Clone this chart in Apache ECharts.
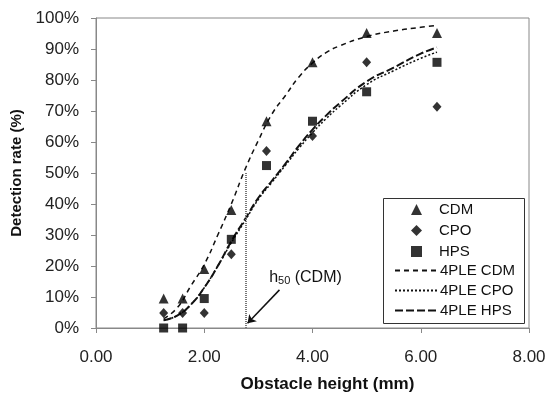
<!DOCTYPE html>
<html>
<head>
<meta charset="utf-8">
<script src="https://cdn.jsdelivr.net/npm/echarts@6/dist/echarts.min.js"></script>
<style>
  html, body { margin: 0; padding: 0; background: #fff; }
  #chart { width: 548px; height: 398px; }
</style>
</head>
<body>
<div id="chart"></div>
<script>
// obstacle heights (mm) and detection rates (%)
const heights = [1.25, 1.6, 2.0, 2.5, 3.15, 4.0, 5.0, 6.3];
const cdm = [9.5, 9.5, 19.0, 38.1, 66.7, 85.7, 95.2, 95.2];
const cpo = [4.8, 4.8, 4.8, 23.8, 57.1, 61.9, 85.7, 71.4];
const hps = [0, 0, 9.5, 28.6, 52.4, 66.7, 76.2, 85.7];

// 4PLE fitted curves
const fitX = [1.25, 1.5, 1.75, 2.0, 2.25, 2.5, 2.75, 3.0, 3.25, 3.5, 3.75, 4.0, 4.25, 4.5, 5.0, 5.5, 6.0, 6.3];
const fitCdm = [3, 6.5, 13.5, 20.5, 30, 40, 51, 60.5, 69, 75, 81, 85.5, 88.8, 91, 94, 95.8, 97, 97.6];
const fitCpo = [2.5, 4, 7.5, 13, 20, 27.5, 34.5, 41.5, 47, 52.5, 58, 63, 67.5, 71.5, 78.5, 83, 87, 89];
const fitHps = [2.5, 4, 7.5, 13, 20, 28, 35, 42, 47.5, 53, 58.8, 64, 68.5, 72.5, 79.5, 84, 88.5, 90.5];

// h50 (CDM) marker + arrow, in data units
const h50 = 2.76;
const arrowFrom = [3.39, 12.3];
const arrowTo = [2.80, 1.5];
const noteAt = [3.87, 16.1];

const pointNames = ['CDM', 'CPO', 'HPS'];
const fitNames = ['4PLE CDM', '4PLE CPO', '4PLE HPS'];

const font = "'Liberation Sans', Arial, sans-serif";
const pairs = (xs, ys) => xs.map((x, i) => [x, ys[i]]);
const legendText = { fontFamily: font, fontSize: 15, color: '#111' };

const chart = echarts.init(document.getElementById('chart'));
chart.setOption({
  animation: false,
  textStyle: { fontFamily: font },
  grid: {
    left: 96, right: 19, top: 18, bottom: 70,
    show: true, borderColor: '#888', borderWidth: 1,
    containLabel: false, outerBoundsMode: 'none'
  },
  // box round both legends
  graphic: [{
    type: 'rect', left: 383, top: 198, silent: true,
    shape: { width: 141, height: 125 },
    style: { fill: '#fff', stroke: '#333', lineWidth: 1 }, z: 10
  }],
  legend: [{
    orient: 'vertical', left: 411, top: 202, padding: 0,
    itemWidth: 11, itemHeight: 11, itemGap: 6, z: 20,
    textStyle: Object.assign({ padding: [0, 0, 0, 12] }, legendText),
    data: pointNames
  }, {
    orient: 'vertical', left: 394, top: 263, padding: 0,
    itemWidth: 43, itemHeight: 10, itemGap: 5, z: 20,
    textStyle: Object.assign({ padding: [0, 0, 0, -3] }, legendText),
    data: fitNames.map(n => ({ name: n, itemStyle: { opacity: 0 } }))
  }],
  xAxis: {
    type: 'value', min: 0, max: 8, interval: 2,
    name: 'Obstacle height (mm)', nameLocation: 'middle', nameGap: 48,
    nameTextStyle: { fontFamily: font, fontSize: 17, fontWeight: 'bold', color: '#111', padding: [0, 0, 0, 30] },
    axisLine: { lineStyle: { color: '#888' } },
    axisTick: { length: 5, lineStyle: { color: '#888' } },
    axisLabel: { fontSize: 17, color: '#222', margin: 21, formatter: v => v.toFixed(2) },
    splitLine: { show: false }
  },
  yAxis: {
    type: 'value', min: 0, max: 100, interval: 10,
    name: 'Detection rate (%)', nameLocation: 'middle', nameGap: 72,
    nameTextStyle: { fontFamily: font, fontSize: 15, fontWeight: 'bold', color: '#111' },
    axisLine: { show: true, lineStyle: { color: '#888' } },
    axisTick: { show: true, length: 5, lineStyle: { color: '#888' } },
    axisLabel: { fontSize: 17, color: '#222', margin: 17, formatter: '{value}%' },
    splitLine: { show: false }
  },
  series: [
    { name: 'CDM', type: 'scatter', symbol: 'triangle', symbolSize: 10,
      itemStyle: { color: '#000' }, data: pairs(heights, cdm), z: 5 },
    { name: 'CPO', type: 'scatter', symbol: 'diamond', symbolSize: [9, 10],
      itemStyle: { color: '#000' }, data: pairs(heights, cpo), z: 5 },
    { name: 'HPS', type: 'scatter', symbol: 'rect', symbolSize: 9,
      itemStyle: { color: '#000' }, data: pairs(heights, hps), z: 5 },
    { name: '4PLE CDM', type: 'line', smooth: true, symbol: 'none',
      lineStyle: { color: '#111', width: 1.5, type: [5, 4] },
      itemStyle: { color: '#111' },
      data: pairs(fitX, fitCdm),
      markLine: {
        silent: true, symbol: 'none', label: { show: false },
        lineStyle: { color: '#777', width: 2, type: [1, 1] },
        data: [[{ coord: [h50, 0] }, { coord: [h50, 50] }]]
      } },
    { name: '4PLE CPO', type: 'line', smooth: true, symbol: 'none',
      lineStyle: { color: '#111', width: 1.5, type: [2, 2] },
      itemStyle: { color: '#111' },
      data: pairs(fitX, fitCpo) },
    { name: '4PLE HPS', type: 'line', smooth: true, symbol: 'none',
      lineStyle: { color: '#111', width: 2, type: [8, 3] },
      itemStyle: { color: '#111' },
      data: pairs(fitX, fitHps),
      markLine: {
        silent: true, symbol: ['none', 'arrow'], symbolSize: 8, label: { show: false },
        lineStyle: { color: '#111', width: 1.5, type: 'solid' },
        data: [[{ coord: arrowFrom }, { coord: arrowTo }]]
      },
      markPoint: {
        silent: true, symbol: 'circle', symbolSize: 0,
        label: {
          show: true, position: 'inside',
          formatter: '{a|h}{s|50}{a| (CDM)}',
          rich: {
            a: { fontFamily: font, fontSize: 16, color: '#111', verticalAlign: 'bottom' },
            s: { fontFamily: font, fontSize: 11, color: '#111', verticalAlign: 'bottom' }
          }
        },
        data: [{ coord: noteAt }]
      } }
  ]
});
</script>
</body>
</html>
